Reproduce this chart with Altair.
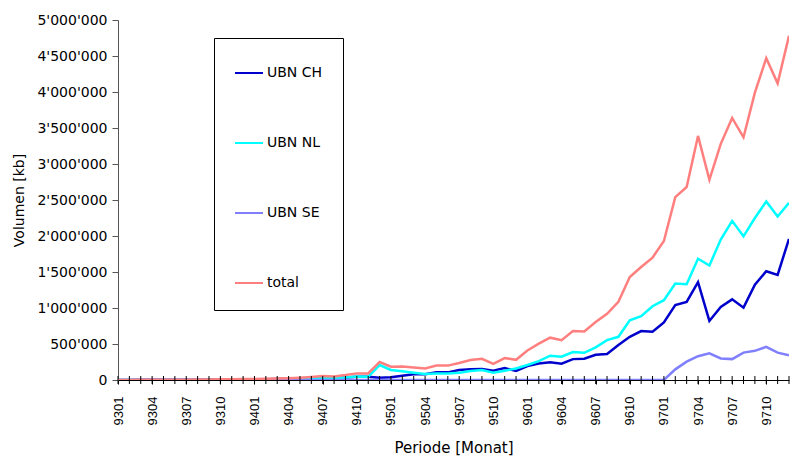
import altair as alt
import pandas as pd

periods = [
    "9301", "9302", "9303", "9304", "9305", "9306", "9307", "9308", "9309", "9310", "9311", "9312",
    "9401", "9402", "9403", "9404", "9405", "9406", "9407", "9408", "9409", "9410", "9411", "9412",
    "9501", "9502", "9503", "9504", "9505", "9506", "9507", "9508", "9509", "9510", "9511", "9512",
    "9601", "9602", "9603", "9604", "9605", "9606", "9607", "9608", "9609", "9610", "9611", "9612",
    "9701", "9702", "9703", "9704", "9705", "9706", "9707", "9708", "9709", "9710", "9711", "9712",
]
label_periods = [
    "9301", "9304", "9307", "9310", "9401", "9404", "9407", "9410", "9501", "9504",
    "9507", "9510", "9601", "9604", "9607", "9610", "9701", "9704", "9707", "9710",
]

ubn_ch = [
    1000, 1200, 2000, 2400, 3100, 3500, 4200, 5000, 6100, 6800, 8000, 9500,
    10500, 12000, 14500, 17000, 20000, 24000, 28000, 27000, 34000, 44000, 46000, 32000,
    37000, 60000, 79000, 79000, 106000, 106000, 139000, 148000, 152000, 129000, 166000, 125000,
    194000, 230000, 245000, 226000, 290000, 295000, 350000, 360000, 485000, 600000, 680000, 670000,
    800000, 1040000, 1085000, 1360000, 820000, 1015000, 1120000, 1005000, 1325000, 1510000, 1460000, 1960000,
]
ubn_nl = [
    0, 0, 0, 500, 500, 1000, 1000, 1500, 2000, 2500, 3000, 3500,
    4000, 5000, 6000, 8000, 12000, 18000, 27000, 23000, 35000, 48000, 46000, 208000,
    139000, 120000, 100000, 83000, 90000, 90000, 100000, 125000, 139000, 100000, 129000, 160000,
    208000, 263000, 337000, 323000, 388000, 378000, 453000, 554000, 600000, 830000, 886000, 1025000,
    1108000, 1340000, 1330000, 1685000, 1590000, 1950000, 2210000, 1995000, 2250000, 2480000, 2270000, 2460000,
]
ubn_se = [
    0, 0, 0, 0, 0, 0, 0, 0, 0, 0, 0, 0,
    0, 0, 0, 0, 0, 0, 0, 0, 0, 0, 0, 0,
    0, 0, 0, 0, 0, 0, 0, 0, 0, 0, 0, 0,
    0, 0, 0, 0, 0, 0, 0, 0, 0, 0, 0, 0,
    0, 148000, 254000, 330000, 370000, 300000, 290000, 380000, 405000, 460000, 380000, 345000,
]
total = [
    1000, 1200, 2000, 2900, 3600, 4500, 5200, 6500, 8100, 9300, 11000, 13000,
    14500, 17000, 20500, 25000, 32000, 42000, 55000, 50000, 69000, 92000, 92000, 250000,
    185000, 188000, 175000, 160000, 200000, 200000, 235000, 277000, 295000, 225000, 305000, 280000,
    410000, 505000, 588000, 554000, 680000, 675000, 805000, 920000, 1085000, 1430000, 1570000, 1700000,
    1930000, 2540000, 2680000, 3390000, 2780000, 3280000, 3640000, 3370000, 3990000, 4470000, 4120000, 4780000,
]

series_names = ["UBN CH", "UBN NL", "UBN SE", "total"]
series_colors = ["#0000CC", "#00FFFF", "#8080FF", "#FF7F7F"]
y_ticks = [0, 500000, 1000000, 1500000, 2000000, 2500000, 3000000, 3500000, 4000000, 4500000, 5000000]

rows = []
for name, vals in zip(series_names, [ubn_ch, ubn_nl, ubn_se, total]):
    for p, v in zip(periods, vals):
        rows.append({"Periode": p, "Volumen": v, "Serie": name})
df = pd.DataFrame(rows)
ticks_df = pd.DataFrame({"Periode": periods})

x_axis = alt.Axis(
    title="Periode [Monat]",
    values=label_periods,
    labelAngle=-90,
    labelFont="Liberation Sans",
    labelFontSize=13,
    labelPadding=12,
    tickSize=4,
    tickColor="black",
    domainColor="black",
    titleFontSize=15,
    titlePadding=16,
    labelOverlap=False,
)
y_axis = alt.Axis(
    title="Volumen [kb]",
    values=y_ticks,
    labelExpr="replace(format(datum.value, ','), /,/g, \"'\")",
    labelOverlap=False,
    grid=False,
    tickSize=6,
    labelPadding=5,
    titlePadding=10,
    titleFontSize=14,
    domainColor="#555555",
    tickColor="#555555",
)
y_scale = alt.Scale(domain=[0, 5000000], nice=False)
x_scale = alt.Scale(type="point", padding=0)

lines = alt.Chart(df).mark_line(strokeWidth=2.5, clip=True).encode(
    x=alt.X("Periode:O", sort=periods, scale=x_scale, axis=x_axis),
    y=alt.Y("Volumen:Q", scale=y_scale, axis=y_axis),
    color=alt.Color(
        "Serie:N",
        scale=alt.Scale(domain=series_names, range=series_colors),
        legend=alt.Legend(
            title=None,
            orient="none",
            legendX=96,
            legendY=18,
            padding=20,
            rowPadding=48,
            symbolType="stroke",
            symbolSize=784,
            symbolStrokeWidth=2,
            labelFontSize=14,
            labelFont="DejaVu Sans",
            labelColor="black",
            labelOffset=3,
            strokeColor="black",
            fillColor="white",
        ),
    ),
)

inner_ticks = alt.Chart(ticks_df).mark_tick(
    orient="vertical", size=8, thickness=1, color="black", opacity=1
).encode(
    x=alt.X("Periode:O", sort=periods, scale=x_scale, axis=x_axis),
    y=alt.YDatum(0, scale=y_scale, axis=y_axis),
)

chart = (
    alt.layer(lines, inner_ticks)
    .properties(
        width=782,
        height=448,
        padding={"left": 4, "top": 5, "right": 0, "bottom": 0},
        autosize=alt.AutoSizeParams(type="fit", contains="padding"),
    )
    .configure_view(stroke=None)
    .configure_axis(
        labelFont="DejaVu Sans",
        labelFontSize=14,
        labelColor="black",
        titleFont="DejaVu Sans",
        titleFontWeight="normal",
        titleColor="black",
    )
)

chart.save("out.html", embed_options={"renderer": "svg", "actions": False})
